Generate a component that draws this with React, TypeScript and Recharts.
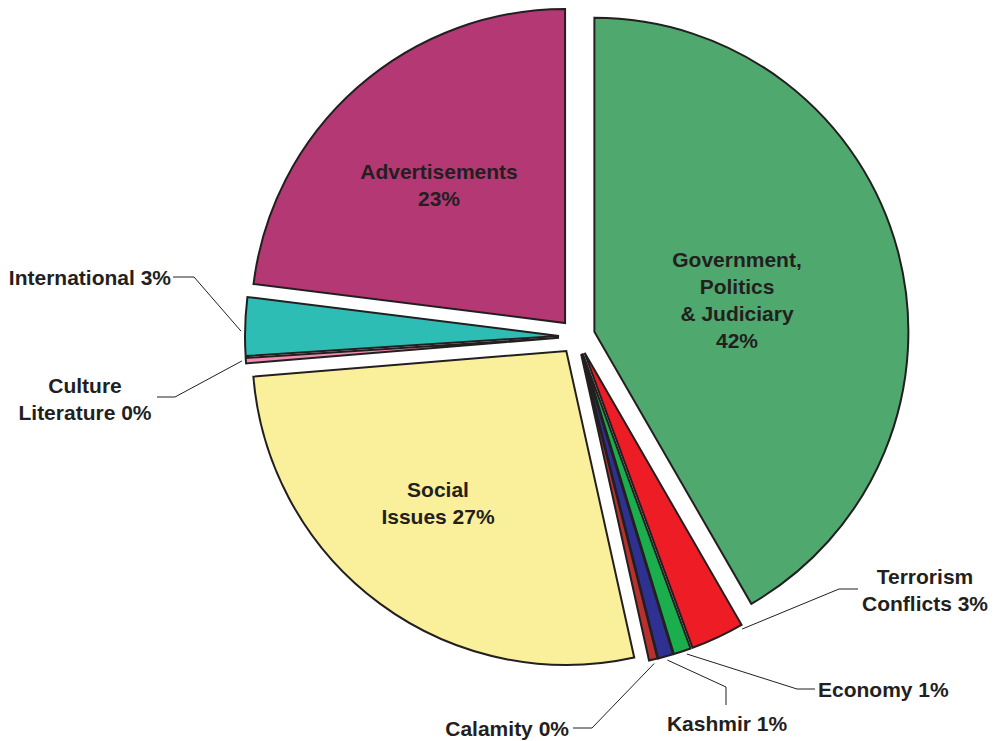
import React from 'react';
import { PieChart, Pie, Cell } from 'recharts';

// ---- data ----
const categories = [
  'Government, Politics & Judiciary',
  'Terrorism Conflicts',
  'Economy',
  'Kashmir',
  'Calamity',
  'Social Issues',
  'Culture Literature',
  'International',
  'Advertisements',
];
const shares = [41.67, 2.75, 0.89, 0.78, 0.44, 27.17, 0.28, 3.0, 23.02];
const labelTexts = [
  ['Government,', 'Politics', '& Judiciary', '42%'],
  ['Terrorism', 'Conflicts 3%'],
  ['Economy 1%'],
  ['Kashmir 1%'],
  ['Calamity 0%'],
  ['Social', 'Issues 27%'],
  ['Culture', 'Literature 0%'],
  ['International 3%'],
  ['Advertisements', '23%'],
];

// ---- styles / layout ----
const colors = ['#4FA86E', '#EE1C25', '#1AAE4C', '#2E3192', '#B7312F', '#FAF09B', '#F08CB0', '#2EBDB5', '#B43874'];
const STROKE = '#231f20';
const W = 997;
const H = 741;
const CX = 577;
const CY = 336.5;
const R = 314;
const EXPLODE = 18;
const FONT = 21;
const LINE_GAP = 27.3;

type Leader = { frac: number; elbow: [number, number]; end: [number, number] };
type LabelLayout = { x: number; y: number; anchor: 'start' | 'middle' | 'end'; leader?: Leader };

const labelLayout: LabelLayout[] = [
  { x: 737, y: 259, anchor: 'middle' },
  { x: 925, y: 576, anchor: 'middle', leader: { frac: 0.03, elbow: [839, 589], end: [858, 589] } },
  { x: 818, y: 689, anchor: 'start', leader: { frac: 0.3, elbow: [797, 689], end: [815, 689] } },
  { x: 727, y: 723, anchor: 'middle', leader: { frac: 0.45, elbow: [726, 687], end: [726, 705] } },
  { x: 569, y: 728, anchor: 'end', leader: { frac: 0.5, elbow: [592, 728], end: [573, 728] } },
  { x: 438, y: 489, anchor: 'middle' },
  { x: 85, y: 385, anchor: 'middle', leader: { frac: 0.5, elbow: [175, 397], end: [157, 397] } },
  { x: 171, y: 277, anchor: 'end', leader: { frac: 0.42, elbow: [194, 277], end: [173, 277] } },
  { x: 439, y: 171, anchor: 'middle' },
];

const data = categories.map((name, i) => ({ name, value: shares[i] }));
const total = shares.reduce((a, b) => a + b, 0);

// explosion offset for each slice, along its mid angle
const offsets = shares.map((v, i) => {
  const before = shares.slice(0, i).reduce((a, b) => a + b, 0);
  const midCw = ((before + v / 2) / total) * 360;
  const rad = ((90 - midCw) * Math.PI) / 180;
  return { dx: EXPLODE * Math.cos(rad), dy: -EXPLODE * Math.sin(rad) };
});

const makeLabel = (own: number) => (props: any) => {
  if (props.index !== own) return null;
  const lay = labelLayout[own];
  const lines = labelTexts[own];
  let leader: React.ReactNode = null;
  if (lay.leader) {
    const a = props.startAngle + lay.leader.frac * (props.endAngle - props.startAngle);
    const rad = (a * Math.PI) / 180;
    const rr = props.outerRadius + 4;
    const sx = props.cx + rr * Math.cos(rad);
    const sy = props.cy - rr * Math.sin(rad);
    leader = (
      <polyline
        points={`${sx},${sy} ${lay.leader.elbow[0]},${lay.leader.elbow[1]} ${lay.leader.end[0]},${lay.leader.end[1]}`}
        fill="none"
        stroke={STROKE}
        strokeWidth={1}
      />
    );
  }
  return (
    <g>
      {leader}
      {lines.map((t, k) => (
        <text
          key={k}
          x={lay.x}
          y={lay.y + k * LINE_GAP + FONT * 0.36}
          textAnchor={lay.anchor}
          fontFamily="'Liberation Sans', Arial, sans-serif"
          fontWeight="bold"
          fontSize={FONT}
          fill={STROKE}
        >
          {t}
        </text>
      ))}
    </g>
  );
};

export default function App() {
  return (
    <div style={{ position: 'absolute', left: 0, top: 0, width: W, height: H, background: '#fff' }}>
      <PieChart width={W} height={H} margin={{ top: 0, right: 0, bottom: 0, left: 0 }}>
        {data.map((_, own) => (
          <Pie
            key={own}
            data={data}
            dataKey="value"
            nameKey="name"
            cx={CX + offsets[own].dx}
            cy={CY + offsets[own].dy}
            outerRadius={R}
            innerRadius={0}
            startAngle={90}
            endAngle={-270}
            isAnimationActive={false}
            labelLine={false}
            label={makeLabel(own)}
          >
            {data.map((__, i) => (
              <Cell
                key={i}
                fill={i === own ? colors[i] : 'none'}
                stroke={i === own ? STROKE : 'none'}
                strokeWidth={2}
              />
            ))}
          </Pie>
        ))}
      </PieChart>
    </div>
  );
}
